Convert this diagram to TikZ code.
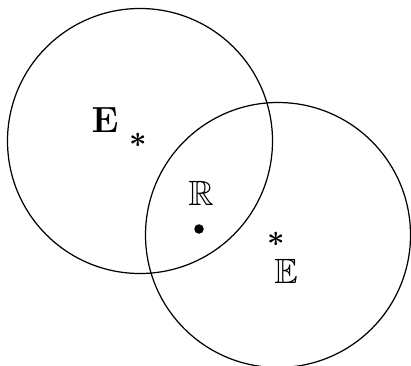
\documentclass[tikz,border=0pt]{standalone}
\usepackage{amsmath,amssymb}
\usepackage{tikz}
\usetikzlibrary{positioning}

\begin{document}
\begin{tikzpicture}[x=0.02cm, y=-0.02cm,
ring/.style={draw,line width=0.7pt},
lbl/.style={inner sep=0pt,font=\fontsize{20}{24}\selectfont},
ctr/.style={inner sep=0pt,font=\fontsize{18}{22}\selectfont\boldmath},
spot/.style={circle,fill,inner sep=0pt,minimum size=0.19cm}]
\useasboundingbox (0,0) rectangle (411,365);
\draw[ring] (140,141) circle (132.5);
\draw[ring] (278,235) circle (132.5);
\node[ctr] (starl) at (138,140) {$*$};
\node[ctr] (starr) at (276,239) {$*$};
\node[lbl] (el) at (105,120) {$\mathbf{E}$};
\node[lbl] (er) at (286,271) {$\mathbb{E}$};
\node[lbl] (rr) at (201,193) {$\mathbb{R}$};
\node[spot] (pt) at (199,229) {};
\end{tikzpicture}
\end{document}
